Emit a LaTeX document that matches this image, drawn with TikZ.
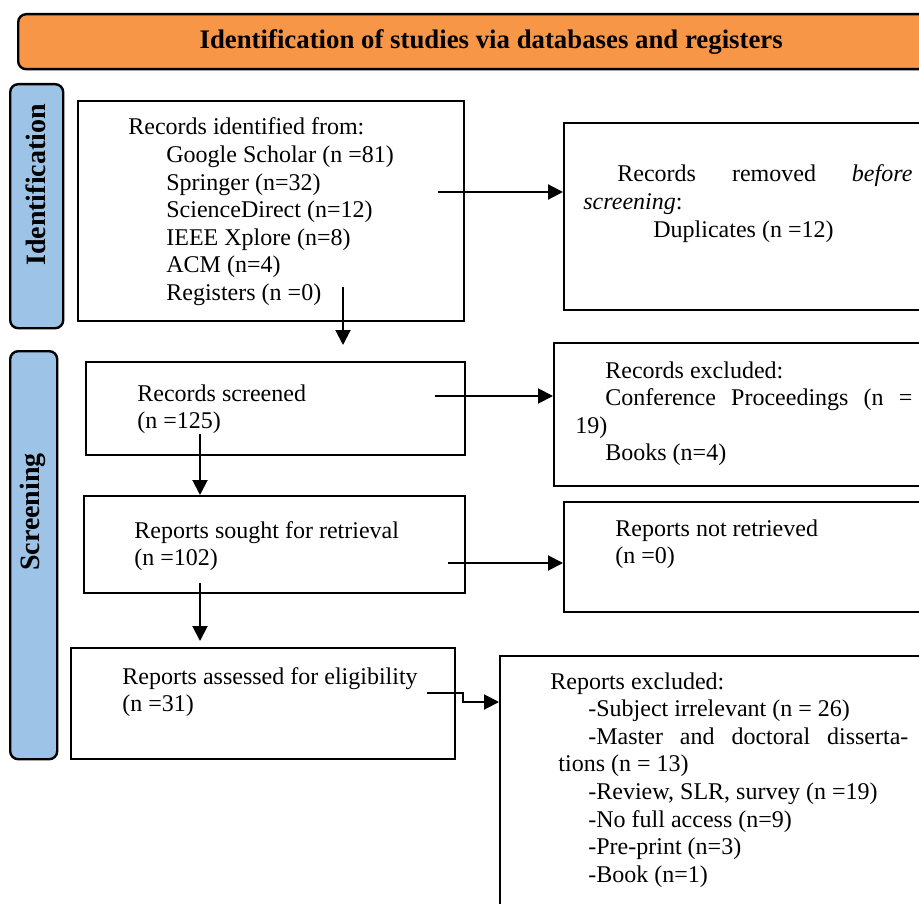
\documentclass[tikz,border=0pt]{standalone}
\usepackage{fontspec}
\setmainfont{Liberation Serif}
\usetikzlibrary{arrows.meta}
\definecolor{headorange}{RGB}{247,150,70}
\definecolor{bandblue}{RGB}{157,195,230}

\begin{document}
\begin{tikzpicture}[x=0.5pt,y=-0.5pt,
    box/.style={draw,line width=1pt,anchor=north west,inner sep=0pt},
    band/.style={draw,line width=1.2pt,rounded corners=4pt,anchor=north west,inner sep=0pt},
    sidelab/.style={rotate=90,inner sep=0pt,font=\bfseries\fontsize{14}{16}\selectfont},
    txt/.style={anchor=base west,inner sep=0pt,align=flush left,text width=185pt,font=\fontsize{12}{13.8}\selectfont},
    arr/.style={line width=1pt,-{Triangle[length=7.5pt,width=7.5pt]}}]
  \useasboundingbox (0,0) rectangle (919,903);
  \clip (0,0) rectangle (919,903);
  % header and phase bands
  \node[band,fill=headorange,minimum width=473pt,minimum height=27.5pt,
        font=\bfseries\fontsize{13.4}{15}\selectfont] (head) at (17,13)
        {Identification of studies via databases and registers};
  \node[band,fill=bandblue,minimum width=26.5pt,minimum height=122pt] (idband) at (9,83) {};
  \node[band,fill=bandblue,minimum width=23.5pt,minimum height=204pt] (scband) at (9,350) {};
  \node[sidelab] (idlab) at (36,185) {Identification};
  \node[sidelab] (sclab) at (33,512) {Screening};

  % boxes
  \node[box,minimum width=193pt,minimum height=110pt] (A) at (77,100) {};
  \node[box,minimum width=186pt,minimum height=93.5pt] (C) at (563,122) {};
  \node[box,minimum width=189.5pt,minimum height=46.5pt] (D) at (85,361) {};
  \node[box,minimum width=191pt,minimum height=71.5pt] (F) at (553,342) {};
  \node[box,minimum width=190.5pt,minimum height=48.5pt] (E) at (83,495) {};
  \node[box,minimum width=186pt,minimum height=55pt] (H) at (563,501) {};
  \node[box,minimum width=192pt,minimum height=55.5pt] (G) at (70,647) {};
  \node[box,minimum width=218pt,minimum height=130pt] (I) at (499,655) {};

  % texts
  \node[txt] (tA) at (128,135) {Records identified from:\\
    \hspace*{19pt}Google Scholar (n =81)\\
    \hspace*{19pt}Springer (n=32)\\
    \hspace*{19pt}ScienceDirect (n=12)\\
    \hspace*{19pt}IEEE Xplore (n=8)\\
    \hspace*{19pt}ACM (n=4)\\
    \hspace*{19pt}Registers (n =0)};
  \node[txt] (tC) at (583,182) {\hspace*{17pt}\makebox[147.5pt][s]{Records\hfill removed\hfill \textit{before}}\\
    \textit{screening}:\\
    \hspace*{35pt}Duplicates (n =12)};
  \node[txt] (tD) at (137,401) {Records screened\\(n =125)};
  \node[txt] (tF) at (575,378) {\hspace*{15pt}Records excluded:\\
    \hspace*{15pt}\makebox[153.5pt][s]{Conference\hfill Proceedings\hfill (n\hfill =}\\
    19)\\
    \hspace*{15pt}Books (n=4)};
  \node[txt] (tE) at (134,538) {Reports sought for retrieval\\(n =102)};
  \node[txt] (tH) at (615,536) {Reports not retrieved\\(n =0)};
  \node[txt] (tG) at (122,684) {Reports assessed for eligibility\\(n =31)};
  \node[txt] (tI) at (550,689) {Reports excluded:\\
    \hspace*{19pt}-Subject irrelevant (n = 26)\\
    \hspace*{19pt}\makebox[160pt][s]{-Master\hfill and\hfill doctoral\hfill disserta-}\\
    \hspace*{4pt}tions (n = 13)\\
    \hspace*{19pt}-Review, SLR, survey (n =19)\\
    \hspace*{19pt}-No full access (n=9)\\
    \hspace*{19pt}-Pre-print (n=3)\\
    \hspace*{19pt}-Book (n=1)};

  % arrows
  \coordinate (a1) at (438,192);
  \coordinate (a2) at (343,287);
  \coordinate (a3) at (200,434);
  \coordinate (a4) at (435,396);
  \coordinate (a5) at (200,583);
  \coordinate (a6) at (448,563);
  \coordinate (a7) at (427,693);
  \draw[arr] (a1) -- (a1 -| C.west);
  \draw[arr,shorten >=8pt] (a2) -- (a2 |- D.north);
  \draw[arr] (a3) -- (a3 |- E.north);
  \draw[arr] (a4) -- (a4 -| F.west);
  \draw[arr,shorten >=3pt] (a5) -- (a5 |- G.north);
  \draw[arr] (a6) -- (a6 -| H.west);
  \draw[arr] (a7) -- ++(36,0) |- (I.west |- 0,702);
\end{tikzpicture}
\end{document}
